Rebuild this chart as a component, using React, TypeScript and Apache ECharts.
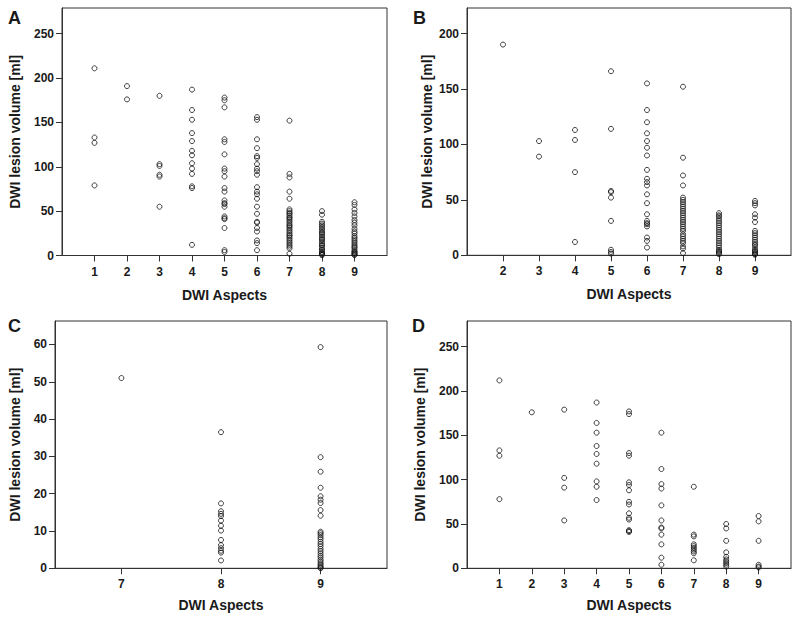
import { useEffect, useRef } from "react";
import * as echarts from "echarts";

// ---------- data ----------
const aspectsA = [1, 2, 3, 4, 5, 6, 7, 8, 9];
const volumesA: number[][] = [
  [211, 133, 127, 79],
  [191, 176],
  [180, 103, 101, 91, 89, 55],
  [187, 164, 153, 138, 129, 118, 113, 104, 98, 92, 78, 76, 12],
  [178, 175, 167, 131, 128, 114, 98, 95, 89, 76, 72, 62, 59, 58, 55, 44, 42, 41, 31, 6, 4],
  [156, 153, 131, 121, 112, 110, 103, 98, 95, 91, 77, 72, 69, 64, 55, 47, 38, 37, 31, 27, 17, 14, 6],
  [152, 92, 88, 72, 64, 52, 50, 48, 47, 45, 43, 42, 40, 38, 36, 34, 33, 31, 29, 27, 25, 23, 22, 20, 18, 16, 14, 12, 10, 8, 2],
  [50, 46, 38, 36, 34, 32, 30, 28, 26, 25, 23, 21, 19, 18, 16, 14, 12, 11, 9, 7, 6, 4, 3, 2, 1, 0.5],
  [60, 57, 52, 48, 44, 40, 37, 34, 30, 27, 25, 22, 20, 18, 16, 14, 12, 10, 9, 7, 5, 4, 3, 2, 1, 0.5],
];

const aspectsB = [2, 3, 4, 5, 6, 7, 8, 9];
const volumesB: number[][] = [
  [190],
  [103, 89],
  [113, 104, 75, 12],
  [166, 114, 58, 57, 52, 31, 5, 3, 1.5],
  [155, 131, 120, 110, 103, 97, 90, 77, 69, 66, 63, 55, 47, 37, 31, 29, 28, 26, 16, 13, 7],
  [152, 88, 72, 63, 52, 50, 48, 46, 44, 42, 40, 38, 36, 34, 32, 30, 28, 26, 24, 22, 19, 17, 15, 13, 11, 8, 6, 2],
  [38, 36, 35, 33, 31, 29, 27, 25, 23, 21, 19, 17, 15, 13, 11, 9, 7, 5, 4, 3, 2, 1],
  [49, 47, 45, 37, 34, 30, 22, 20, 18, 16, 14, 12, 10, 9, 7, 5, 4, 3, 2, 1, 0.5],
];

const aspectsC = [7, 8, 9];
const volumesC: number[][] = [
  [51],
  [36.5, 17.4, 15.3, 14.6, 14.0, 12.8, 11.4, 10.1, 7.6, 6.2, 5.4, 4.7, 4.2, 2.1],
  [59.3, 29.8, 25.9, 21.6, 19.3, 18.4, 17.5, 15.6, 14.1, 9.8, 9.4, 8.9, 8.3, 7.8, 7.1, 6.5, 5.9, 5.2, 4.6, 4.0, 3.4, 2.9, 2.3, 1.8, 1.3, 0.9, 0.5, 0.2, 0],
];

const aspectsD = [1, 2, 3, 4, 5, 6, 7, 8, 9];
const volumesD: number[][] = [
  [212, 133, 127, 78],
  [176],
  [179, 102, 91, 54],
  [187, 164, 153, 138, 129, 118, 98, 92, 77],
  [177, 174, 130, 127, 97, 94, 88, 75, 72, 62, 57, 55, 43, 42, 41],
  [153, 112, 95, 90, 71, 54, 46, 45, 38, 27, 12, 4],
  [92, 38, 36, 27, 25, 23, 21, 19, 17, 9],
  [50, 45, 31, 18, 13, 10, 8, 6, 4, 2],
  [59, 53, 31, 4, 2, 1],
];

const yTicksA = [0, 50, 100, 150, 200, 250];
const yTicksB = [0, 50, 100, 150, 200];
const yTicksC = [0, 10, 20, 30, 40, 50, 60];
const yTicksD = [0, 50, 100, 150, 200, 250];

const panelLetters = ["A", "B", "C", "D"];
const xTitle = "DWI Aspects";
const yTitle = "DWI lesion volume [ml]";

// ---------- styling ----------
const FONT = "'Liberation Sans', Arial, Helvetica, sans-serif";
const TEXT = "#1a1a1a";
const LINE = "#333";

type PanelCfg = {
  aspects: number[];
  volumes: number[][];
  xMin: number;
  xMax: number;
  yMax: number;
  yTicks: number[];
  grid: { left: number; top: number; width: number; height: number };
  yGap: number;
  xGap: number;
};

const panels: PanelCfg[] = [
  { aspects: aspectsA, volumes: volumesA, xMin: 0, xMax: 10, yMax: 279, yTicks: yTicksA,
    grid: { left: 62, top: 8, width: 325, height: 247.5 }, yGap: 40, xGap: 32 },
  { aspects: aspectsB, volumes: volumesB, xMin: 1, xMax: 10, yMax: 223, yTicks: yTicksB,
    grid: { left: 467, top: 8, width: 324, height: 247.3 }, yGap: 33, xGap: 32 },
  { aspects: aspectsC, volumes: volumesC, xMin: 6.333, xMax: 9.667, yMax: 66.3, yTicks: yTicksC,
    grid: { left: 55, top: 321, width: 332, height: 247.3 }, yGap: 33, xGap: 30 },
  { aspects: aspectsD, volumes: volumesD, xMin: 0, xMax: 10, yMax: 279, yTicks: yTicksD,
    grid: { left: 467, top: 321, width: 324, height: 247.3 }, yGap: 40, xGap: 30 },
];

const letterPos = [
  { x: 8, y: 9 },
  { x: 413, y: 9 },
  { x: 8, y: 317 },
  { x: 412, y: 317 },
];

export default function App() {
  const ref = useRef<HTMLDivElement>(null);

  useEffect(() => {
    if (!ref.current) return;
    const chart = echarts.init(ref.current, undefined, { renderer: "svg" });

    const labelStyle = { color: TEXT, fontFamily: FONT, fontWeight: "bold" as const, fontSize: 12 };
    const nameStyle = { color: TEXT, fontFamily: FONT, fontWeight: "bold" as const, fontSize: 14 };

    const option: any = {
      animation: false,
      backgroundColor: "#fff",
      grid: panels.map((p) => ({
        ...p.grid,
        show: true,
        borderColor: LINE,
        borderWidth: 1,
        backgroundColor: "transparent",
        containLabel: false,
      })),
      xAxis: panels.map((p, i) => ({
        type: "value",
        gridIndex: i,
        min: p.xMin,
        max: p.xMax,
        name: xTitle,
        nameLocation: "middle",
        nameGap: p.xGap,
        nameTextStyle: nameStyle,
        axisLine: { show: true, lineStyle: { color: LINE, width: 1 } },
        axisTick: { show: true, length: 6, lineStyle: { color: LINE }, customValues: p.aspects },
        axisLabel: { ...labelStyle, margin: 10, customValues: p.aspects },
        splitLine: { show: false },
      })),
      yAxis: panels.map((p, i) => ({
        type: "value",
        gridIndex: i,
        min: 0,
        max: p.yMax,
        name: yTitle,
        nameLocation: "middle",
        nameGap: p.yGap,
        nameTextStyle: nameStyle,
        axisLine: { show: true, lineStyle: { color: LINE, width: 1 } },
        axisTick: { show: true, length: 6, lineStyle: { color: LINE }, customValues: p.yTicks },
        axisLabel: { ...labelStyle, margin: 8, customValues: p.yTicks },
        splitLine: { show: false },
      })),
      series: panels.map((p, i) => ({
        type: "scatter",
        xAxisIndex: i,
        yAxisIndex: i,
        symbol: "circle",
        symbolSize: 5,
        itemStyle: { color: "rgba(0,0,0,0)", borderColor: "#111", borderWidth: 1 },
        data: p.aspects.flatMap((a, k) => p.volumes[k].map((v) => [a, v])),
      })),
      graphic: panelLetters.map((t, i) => ({
        type: "text",
        left: letterPos[i].x,
        top: letterPos[i].y,
        style: { text: t, font: `bold 18px ${FONT}`, fill: TEXT },
      })),
    };

    chart.setOption(option);
    return () => chart.dispose();
  }, []);

  return (
    <div
      ref={ref}
      style={{ position: "fixed", left: 0, top: 0, width: 800, height: 624, background: "#fff" }}
    />
  );
}
